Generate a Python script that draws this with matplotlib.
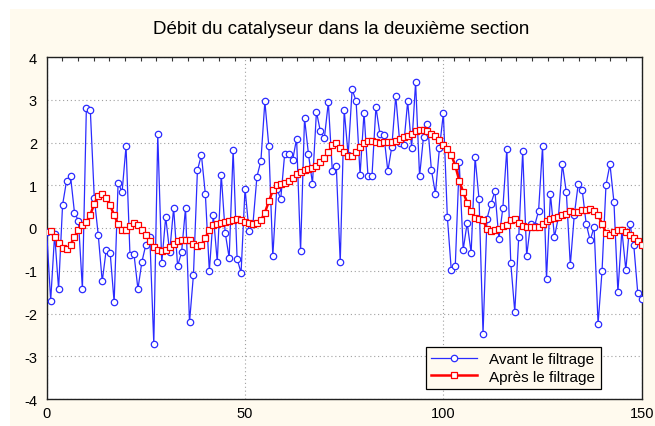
import numpy as np
import matplotlib
matplotlib.use("Agg")
import matplotlib.pyplot as plt
from matplotlib.patches import Rectangle
from matplotlib.ticker import FixedLocator

plt.rcParams['font.family'] = ['Liberation Sans', 'DejaVu Sans']

# Raw flow measurements (before filtering), sample 0..150
avant = [
    -0.10, -1.70, -0.15, -1.43, 0.54, 1.10, 1.22, 0.36, 0.17, -1.43,
    2.80, 2.75, 0.70, -0.17, -1.25, -0.51, -0.58, -1.74, 1.06, 0.84,
    1.91, -0.64, -0.61, -1.43, -0.79, -0.39, -0.22, -2.71, 2.19, -0.82,
    0.26, -0.57, 0.47, -0.89, -0.57, 0.47, -2.21, -1.09, 1.35, 1.71,
    0.79, -1.01, 0.30, -0.79, 1.25, -0.11, -0.70, 1.82, -0.72, -1.05,
    0.92, -0.07, 0.10, 1.20, 1.57, 2.96, 1.91, -0.66, 0.92, 0.68,
    1.74, 1.72, 1.59, 2.09, -0.54, 2.57, 1.72, 1.04, 2.72, 2.26,
    2.10, 2.94, 1.34, 1.46, -0.80, 2.76, 1.70, 3.24, 2.97, 1.24,
    2.70, 1.21, 1.21, 2.83, 2.20, 2.18, 1.33, 1.90, 3.09, 2.00,
    1.93, 2.96, 1.88, 3.41, 1.21, 2.14, 2.44, 1.35, 0.80, 1.86,
    2.68, 0.26, -0.99, -0.89, 1.54, -0.51, 0.12, -0.58, 1.65, 0.67,
    -2.47, 0.22, 0.57, 0.86, -0.26, 0.47, 1.85, -0.83, -1.96, -0.21,
    1.79, -0.65, 0.10, 0.05, 0.40, 1.91, -1.19, 0.79, -0.21, 0.25,
    1.49, 0.84, -0.87, 0.30, 1.03, 0.89, 0.10, -0.29, 0.02, -2.24,
    -1.01, 1.01, 1.49, 0.61, -1.50, -0.05, -0.98, 0.10, -0.40, -1.51,
    -1.66,
]
x_avant = np.arange(0, len(avant))

# Filtered flow, sample 1..150
apres = [
    -0.08, -0.21, -0.35, -0.47, -0.50, -0.39, -0.21, -0.04, 0.08, 0.14,
    0.31, 0.57, 0.76, 0.79, 0.71, 0.53, 0.30, 0.09, -0.05, -0.05,
    0.05, 0.12, 0.06, -0.05, -0.17, -0.30, -0.44, -0.52, -0.54, -0.51,
    -0.44, -0.37, -0.31, -0.27, -0.27, -0.27, -0.37, -0.43, -0.40, -0.23,
    -0.04, 0.06, 0.09, 0.12, 0.14, 0.16, 0.18, 0.20, 0.18, 0.14,
    0.11, 0.10, 0.12, 0.18, 0.36, 0.62, 0.88, 1.01, 1.04, 1.06,
    1.09, 1.17, 1.27, 1.32, 1.35, 1.37, 1.40, 1.46, 1.54, 1.63,
    1.77, 1.95, 1.98, 1.88, 1.77, 1.68, 1.68, 1.77, 1.89, 1.99,
    2.04, 2.04, 2.02, 1.99, 2.02, 2.01, 2.01, 2.04, 2.09, 2.12,
    2.16, 2.20, 2.26, 2.30, 2.30, 2.28, 2.20, 2.15, 2.05, 1.95,
    1.85, 1.71, 1.46, 1.11, 0.84, 0.59, 0.40, 0.23, 0.20, 0.18,
    -0.02, -0.08, -0.05, -0.02, 0.04, 0.08, 0.19, 0.20, 0.12, 0.04,
    0.02, 0.02, 0.02, 0.02, 0.10, 0.17, 0.22, 0.23, 0.26, 0.30,
    0.33, 0.39, 0.37, 0.37, 0.41, 0.43, 0.45, 0.40, 0.30, 0.10,
    -0.11, -0.16, -0.09, -0.05, -0.05, -0.09, -0.16, -0.23, -0.30, -0.39,
]
x_apres = np.arange(1, len(apres) + 1)

x_ticks = [0, 50, 100, 150]
y_ticks = [-4, -3, -2, -1, 0, 1, 2, 3, 4]

title = "Débit du catalyseur dans la deuxième section"
label_avant = "Avant le filtrage"
label_apres = "Après le filtrage"

cream = "#FFFAEE"

fig = plt.figure(figsize=(6.55, 4.27), dpi=100, facecolor="white")
# cream panel behind the chart
fig.patches.append(Rectangle((10 / 655, 0), 1 - 10 / 655, 1 - 10 / 427,
                             transform=fig.transFigure, facecolor=cream,
                             edgecolor="none", zorder=-10))

ax = fig.add_axes([46.7 / 655, 1 - 400 / 427, 595 / 655, 342 / 427])
ax.set_facecolor("white")

ax.plot(x_avant, avant, color="#2B2BFF", lw=0.9, marker="o", ms=4.6,
        mfc="white", mec="#2B2BFF", mew=0.9, label=label_avant, zorder=3)
ax.plot(x_apres, apres, color="#FF0000", lw=1.8, marker="s", ms=4.6,
        mfc="white", mec="#FF0000", mew=0.9, label=label_apres, zorder=4)

ax.set_xlim(0, 150)
ax.set_ylim(-4, 4)
ax.set_xticks(x_ticks)
ax.set_yticks(y_ticks)
ax.set_xticklabels([str(v) for v in x_ticks])
ax.set_yticklabels([str(v) for v in y_ticks])

ax.xaxis.set_minor_locator(FixedLocator(np.linspace(0, 150, 39)[1:-1]))
ax.tick_params(which="major", length=0, labelsize=10.5, colors="black")
ax.tick_params(axis="x", which="major", pad=5)
ax.tick_params(axis="y", which="major", pad=7)
ax.tick_params(axis="x", which="minor", top=True, bottom=False,
               direction="in", length=3, width=0.8, color="#333333")

ax.grid(True, which="major", linestyle=(0, (1, 2.5)), color="#A0A0A0",
        linewidth=0.8)
for s in ax.spines.values():
    s.set_color("#202020")
    s.set_linewidth(1.0)

fig.text(341 / 655, 1 - 30 / 427, title, ha="center", va="center",
         fontsize=13.5)

leg = ax.legend(loc="lower right", bbox_to_anchor=(0.931, 0.029),
                borderaxespad=0, frameon=True, fancybox=False,
                facecolor=cream, edgecolor="black", framealpha=1,
                fontsize=11, handlelength=3.0, borderpad=0.35,
                labelspacing=0.25, handletextpad=0.8)
leg.get_frame().set_linewidth(0.9)

fig.savefig("out.png", dpi=100, facecolor=fig.get_facecolor())
